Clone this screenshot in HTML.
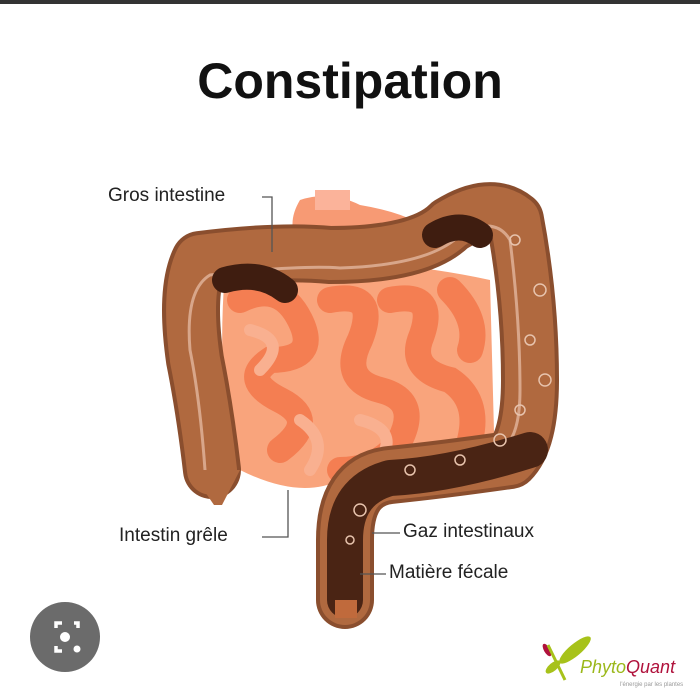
<!DOCTYPE html>
<html><head><style>
html,body{margin:0;padding:0;background:#fff;}
body{width:700px;height:700px;position:relative;overflow:hidden;font-family:"Liberation Sans",sans-serif;}
.t{position:absolute;color:#222;font-size:19px;}
</style></head><body>
<div style="position:absolute;left:0;top:0;width:700px;height:4px;background:#333"></div>
<div style="position:absolute;left:0;top:52px;width:700px;text-align:center;font-weight:bold;font-size:50px;color:#111;">Constipation</div>
<svg width="700" height="700" style="position:absolute;left:0;top:0">
 <path d="M300 200 Q330 190 360 205 Q420 215 440 240 L420 260 Q360 250 300 245 Q285 225 300 200Z" fill="#f79a74"/>
 <rect x="315" y="190" width="35" height="20" fill="#fbb39a"/>
 <path d="M225 270 Q350 250 490 280 L495 470 Q420 500 340 480 Q300 500 240 470 Q215 400 225 270Z" fill="#f9a47c"/>
 <g fill="none" stroke="#f47e52" stroke-width="26" stroke-linecap="round">
  <path d="M240 300 Q280 280 300 320 Q320 360 270 360 Q240 380 280 400 Q320 420 280 450"/>
  <path d="M330 300 Q380 290 360 340 Q340 380 380 390 Q420 400 400 440 Q380 470 340 470"/>
  <path d="M390 300 Q440 290 420 340 Q410 370 450 380 Q480 400 470 440"/>
  <path d="M450 290 Q480 320 470 350"/>
 </g>
 <g fill="none" stroke="#f9b090" stroke-width="12" stroke-linecap="round">
  <path d="M250 330 Q290 340 260 370"/><path d="M300 420 Q330 440 310 470"/><path d="M360 420 Q400 430 380 460"/>
 </g>
 <g fill="none" stroke-linecap="round" stroke-linejoin="round">
  <path d="M212 470 Q205 410 195 360 Q185 290 200 260 Q280 250 330 255 Q420 255 450 225 Q490 200 515 220 Q530 300 530 380 Q530 440 510 460 Q440 470 390 475 Q345 480 345 540 L345 600" stroke="#8a4e2e" stroke-width="58"/>
  <path d="M212 470 Q205 410 195 360 Q185 290 200 260 Q280 250 330 255 Q420 255 450 225 Q490 200 515 220 Q530 300 530 380 Q530 440 510 460 Q440 470 390 475 Q345 480 345 540 L345 600" stroke="#b0693f" stroke-width="50"/>
  <path d="M205 470 Q200 400 190 350 Q185 290 210 275 Q300 265 340 268 Q430 265 460 235 Q495 215 510 240 Q520 320 520 390 Q520 440 500 450" stroke="#d8a68a" stroke-width="3"/>
  <path d="M225 280 Q260 270 285 290" stroke="#3f1d10" stroke-width="26"/>
  <path d="M435 235 Q460 220 480 235" stroke="#3f1d10" stroke-width="26"/>
  <path d="M530 450 Q450 475 390 478 Q345 490 345 540 L345 600" stroke="#4a2414" stroke-width="36"/>
 </g>
 <path d="M190 470 L240 470 L222 505 L214 505Z" fill="#b0693f"/>
 <rect x="335" y="600" width="22" height="18" fill="#c06a3c"/>
 <g fill="none" stroke="#e7c3ad" stroke-width="1.5">
  <circle cx="515" cy="240" r="5"/><circle cx="540" cy="290" r="6"/><circle cx="530" cy="340" r="5"/><circle cx="545" cy="380" r="6"/><circle cx="520" cy="410" r="5"/><circle cx="500" cy="440" r="6"/><circle cx="460" cy="460" r="5"/><circle cx="410" cy="470" r="5"/><circle cx="360" cy="510" r="6"/><circle cx="350" cy="540" r="4"/>
 </g>
 <g stroke="#555" stroke-width="1.3" fill="none">
  <path d="M262 197 L272 197 L272 252"/>
  <path d="M262 537 L288 537 L288 490"/>
  <path d="M400 533 L372 533"/>
  <path d="M386 574 L360 574"/>
 </g>
 <circle cx="65" cy="637" r="35" fill="#6b6b6b"/>
 <path d="M56 628 v-5 h6 M74 623 h4 v5 M56 646 v5 h6" stroke="#fff" stroke-width="3.5" fill="none"/>
 <circle cx="65" cy="637" r="5" fill="#fff"/><circle cx="77" cy="649" r="3.5" fill="#fff"/>
 <ellipse cx="575" cy="650" rx="20" ry="6" fill="#a7c21a" transform="rotate(-40 575 650)"/>
 <ellipse cx="553" cy="667" rx="9" ry="4" fill="#a7c21a" transform="rotate(-40 553 667)"/>
 <ellipse cx="547" cy="650" rx="7" ry="3" fill="#b0123c" transform="rotate(60 547 650)"/>
 <path d="M548 645 L565 680" stroke="#a7c21a" stroke-width="3"/>
 <text x="580" y="673" font-family="Liberation Sans" font-style="italic" font-size="18" fill="#9bb81a">Phyto<tspan fill="#b0123c">Quant</tspan></text>
 <text x="620" y="686" font-family="Liberation Sans" font-size="6" fill="#999">l'énergie par les plantes</text>
</svg>
<div class="t" style="left:108px;top:185px">Gros intestine</div>
<div class="t" style="left:119px;top:525px">Intestin grêle</div>
<div class="t" style="left:403px;top:521px">Gaz intestinaux</div>
<div class="t" style="left:389px;top:562px">Matière fécale</div>
</body></html>
